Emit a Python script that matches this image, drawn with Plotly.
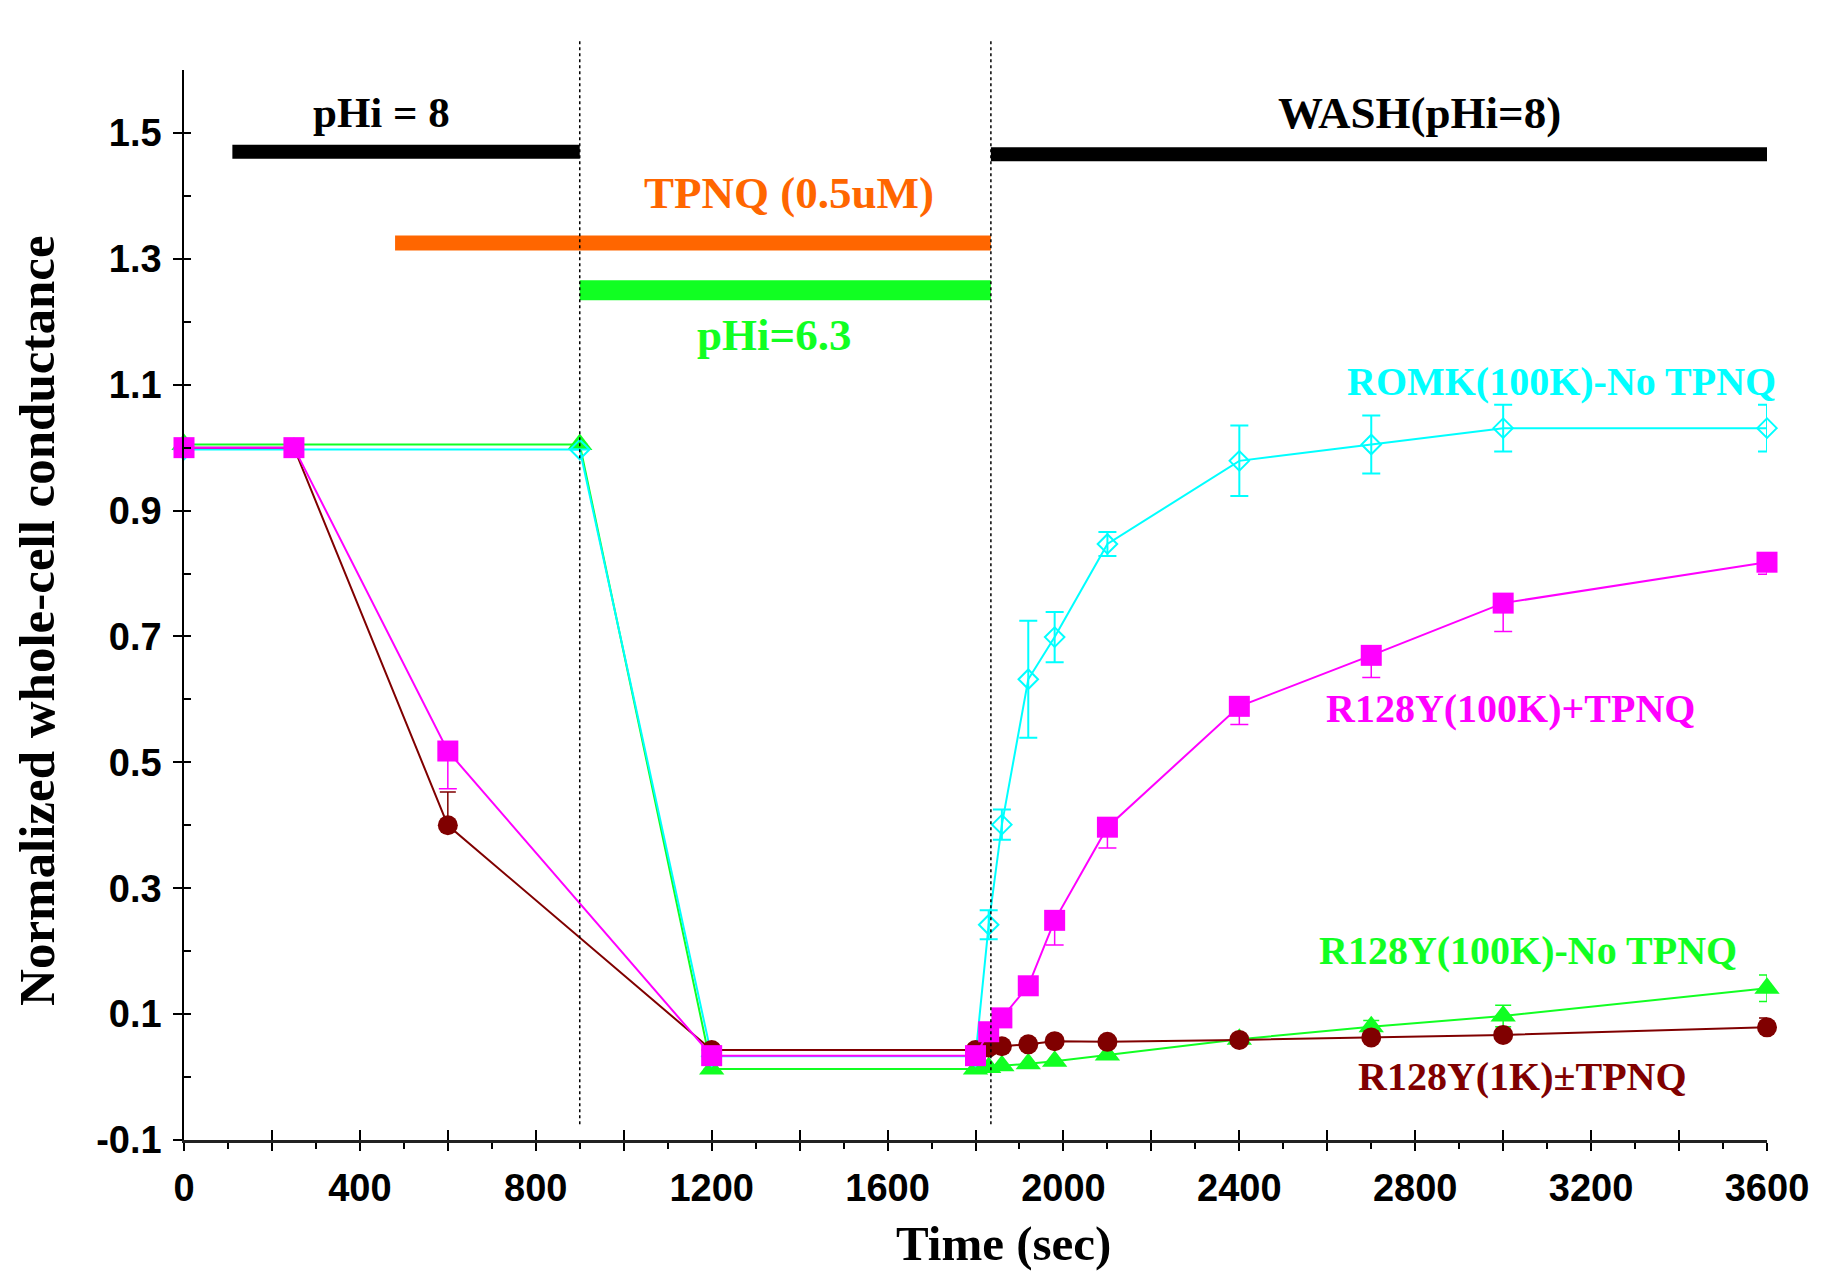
import plotly.graph_objects as go

# ---------------- data ----------------
# ROMK(100K)-No TPNQ (cyan, open diamonds)
t_romk = [0, 900, 1200, 1800, 1830, 1860, 1920, 1980, 2100, 2400, 2700, 3000, 3600]
g_romk = [0.997, 0.997, 0.033, 0.033, 0.242, 0.401, 0.632, 0.699, 0.847, 0.979, 1.005, 1.031, 1.031]
e_romk = [0, 0, 0, 0, 0.023, 0.024, 0.093, 0.040, 0.019, 0.056, 0.046, 0.037, 0.037]

# R128Y(100K)+TPNQ (magenta squares)
t_r100tp = [0, 250, 600, 1200, 1800, 1830, 1860, 1920, 1980, 2100, 2400, 2700, 3000, 3600]
g_r100tp = [1.0, 1.0, 0.518, 0.034, 0.034, 0.072, 0.094, 0.145, 0.249, 0.397, 0.589, 0.670, 0.753, 0.818]
e_r100tp_minus = [0, 0, 0.060, 0, 0, 0, 0, 0, 0.039, 0.033, 0.029, 0.035, 0.045, 0.019]

# R128Y(100K)-No TPNQ (green triangles)
t_r100 = [0, 900, 1200, 1800, 1830, 1860, 1920, 1980, 2100, 2400, 2700, 3000, 3600]
g_r100 = [1.005, 1.005, 0.013, 0.013, 0.015, 0.018, 0.021, 0.025, 0.035, 0.060, 0.080, 0.097, 0.141]
e_r100 = [0, 0, 0, 0, 0, 0, 0, 0, 0, 0, 0.010, 0.017, 0.021]

# R128Y(1K)±TPNQ (dark red circles)
t_r1k = [0, 250, 600, 1200, 1800, 1830, 1860, 1920, 1980, 2100, 2400, 2700, 3000, 3600]
g_r1k = [1.0, 1.0, 0.400, 0.043, 0.043, 0.047, 0.049, 0.052, 0.057, 0.056, 0.059, 0.063, 0.067, 0.079]
e_r1k_plus = [0, 0, 0.053, 0, 0, 0, 0, 0, 0, 0, 0, 0, 0, 0.015]

# protocol bars: [start, end], level
bar_ph8 = [110, 900]
bar_ph8_level = 1.47
bar_wash = [1835, 3614]
bar_wash_level = 1.466
bar_tpnq = [480, 1835]
bar_tpnq_level = 1.325
bar_ph63 = [900, 1835]
bar_ph63_level = 1.25

event_times = [900, 1835]

x_major = list(range(0, 3601, 200))
x_labels = [str(v) if v % 400 == 0 else "" for v in x_major]
x_minor = list(range(100, 3600, 200))
y_major = [-0.1, 0.1, 0.3, 0.5, 0.7, 0.9, 1.1, 1.3, 1.5]
y_labels = ["-0.1", "0.1", "0.3", "0.5", "0.7", "0.9", "1.1", "1.3", "1.5"]
y_all = [round(-0.1 + 0.1 * i, 1) for i in range(18)]

CYAN = "#00FFFF"
MAG = "#FF00FF"
GREEN = "#11FF22"
DRED = "#800000"
ORANGE = "#FF6600"
SERIF = "Liberation Serif, Times New Roman, serif"
SANS = "Liberation Sans, Arial, Helvetica, sans-serif"

fig = go.Figure()

# protocol bars
for xs, lvl, col, w in [
    (bar_ph8, bar_ph8_level, "black", 14),
    (bar_wash, bar_wash_level, "black", 14),
    (bar_tpnq, bar_tpnq_level, ORANGE, 15),
    (bar_ph63, bar_ph63_level, GREEN, 20),
]:
    fig.add_trace(go.Scatter(x=xs, y=[lvl, lvl], mode="lines",
                             line=dict(color=col, width=w), showlegend=False,
                             hoverinfo="skip"))

# series
fig.add_trace(go.Scatter(
    x=t_r100, y=g_r100, mode="lines+markers",
    line=dict(color=GREEN, width=2),
    marker=dict(symbol="triangle-up", size=22, color=GREEN),
    error_y=dict(type="data", array=e_r100, color=GREEN, thickness=1.5, width=8),
    showlegend=False, cliponaxis=False))

fig.add_trace(go.Scatter(
    x=t_romk, y=g_romk, mode="lines+markers",
    line=dict(color=CYAN, width=2),
    marker=dict(symbol="diamond-open", size=15, color=CYAN, line=dict(width=2, color=CYAN)),
    error_y=dict(type="data", array=e_romk, color=CYAN, thickness=2, width=9),
    showlegend=False, cliponaxis=False))

fig.add_trace(go.Scatter(
    x=t_r1k, y=g_r1k, mode="lines+markers",
    line=dict(color=DRED, width=2),
    marker=dict(symbol="circle", size=20, color=DRED),
    error_y=dict(type="data", symmetric=False, array=e_r1k_plus,
                 arrayminus=[0] * len(e_r1k_plus), color=DRED, thickness=1.5, width=8),
    showlegend=False, cliponaxis=False))

fig.add_trace(go.Scatter(
    x=t_r100tp, y=g_r100tp, mode="lines+markers",
    line=dict(color=MAG, width=2),
    marker=dict(symbol="square", size=21, color=MAG),
    error_y=dict(type="data", symmetric=False, array=[0] * len(e_r100tp_minus),
                 arrayminus=e_r100tp_minus, color=MAG, thickness=1.5, width=9),
    showlegend=False, cliponaxis=False))

# dummy trace for overlay axes
fig.add_trace(go.Scatter(x=[None], y=[None], xaxis="x2", yaxis="y2",
                         showlegend=False, hoverinfo="skip"))

# dotted event lines
for t in event_times:
    fig.add_shape(type="line", xref="x", yref="paper", x0=t, x1=t,
                  y0=(-0.075 + 0.1) / 1.7, y1=(1.65 + 0.1) / 1.7,
                  line=dict(color="black", width=1.5, dash="dot"), layer="above")

# text annotations
def txt(x, y, s, color, size):
    fig.add_annotation(x=x, y=y, xref="x", yref="y", text="<b>" + s + "</b>",
                       showarrow=False, xanchor="center", yanchor="middle",
                       font=dict(family=SERIF, size=size, color=color))

txt(449, 1.532, "pHi = 8", "black", 43)
txt(2810, 1.532, "WASH(pHi=8)", "black", 45)
txt(1376, 1.405, "TPNQ (0.5uM)", ORANGE, 45)
txt(1342, 1.179, "pHi=6.3", GREEN, 45)
txt(3132, 1.105, "ROMK(100K)-No TPNQ", CYAN, 40)
txt(3016, 0.586, "R128Y(100K)+TPNQ", MAG, 40)
txt(3057, 0.201, "R128Y(100K)-No TPNQ", GREEN, 40)
txt(3043, 0.001, "R128Y(1K)±TPNQ", DRED, 40)

# axis titles
fig.add_annotation(x=-0.0929, y=0.486, xref="paper", yref="paper",
                   text="<b>Normalized whole-cell conductance</b>", textangle=-90,
                   showarrow=False, xanchor="center", yanchor="middle",
                   font=dict(family=SERIF, size=51, color="black"))
fig.add_annotation(x=0.518, y=-0.097, xref="paper", yref="paper",
                   text="<b>Time (sec)</b>", showarrow=False,
                   xanchor="center", yanchor="middle",
                   font=dict(family=SERIF, size=49, color="black"))

tickfont = dict(family=SANS, size=38, color="black", weight="bold")

fig.update_layout(
    width=1845, height=1272,
    margin=dict(l=184, r=78, t=70, b=132),
    paper_bgcolor="white", plot_bgcolor="white",
    xaxis=dict(range=[0, 3600], showgrid=False, zeroline=False,
               showline=True, linecolor="#222222", linewidth=3,
               ticks="outside", ticklen=8, tickwidth=2, tickcolor="black",
               tickvals=x_major, ticktext=x_labels, tickfont=tickfont,
               ticklabelstandoff=4,
               minor=dict(tickvals=x_minor, ticks="outside", ticklen=6,
                          tickwidth=2, tickcolor="black", showgrid=False)),
    xaxis2=dict(range=[0, 3600], overlaying="x", anchor="y", side="bottom",
                showgrid=False, zeroline=False, showline=False,
                ticks="inside", ticklen=10, tickwidth=2, tickcolor="black",
                tickvals=x_major, showticklabels=False),
    yaxis=dict(range=[-0.1, 1.6], showgrid=False, zeroline=False,
               showline=True, linecolor="black", linewidth=1.5,
               ticks="outside", ticklen=9, tickwidth=2, tickcolor="black",
               tickvals=y_major, ticktext=y_labels, tickfont=tickfont,
               ticklabelstandoff=4),
    yaxis2=dict(range=[-0.1, 1.6], overlaying="y", anchor="x", side="left",
                showgrid=False, zeroline=False, showline=False,
                ticks="inside", ticklen=7, tickwidth=2, tickcolor="black",
                tickvals=y_all, showticklabels=False),
)

fig.write_html("out.html")
